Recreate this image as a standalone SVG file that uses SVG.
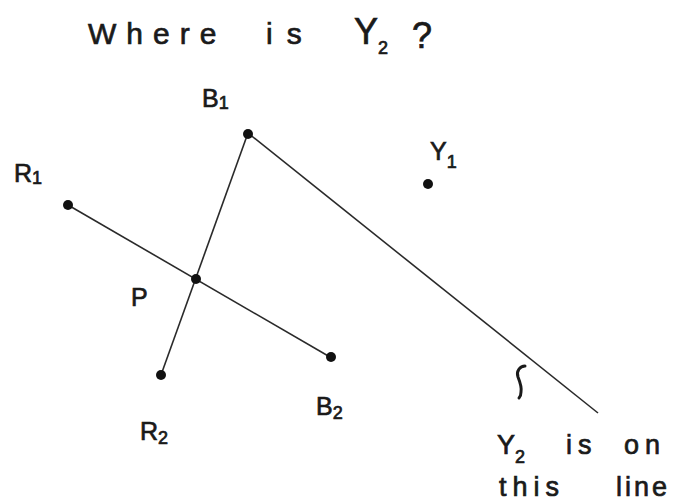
<svg xmlns="http://www.w3.org/2000/svg" width="691" height="504" viewBox="0 0 691 504">
<style>
text{font-family:"Liberation Sans","DejaVu Sans",sans-serif;fill:#1a1a1a;stroke:#1a1a1a;stroke-width:0.7}
.t{font-size:30px;letter-spacing:10px}
.ty{font-size:36px}
.l{font-size:25px}
.s{font-size:18px}
.n{font-size:27px;letter-spacing:6px}
.ln{stroke:#2a2a2a;stroke-width:1.6;fill:none}
.sq{stroke:#1a1a1a;stroke-width:3;fill:none;stroke-linecap:round}
.dot{fill:#111}
</style>
<rect width="691" height="504" fill="#fff"/>
<g id="title">
<text class="t" x="88" y="44">Where</text>
<text class="t" x="266" y="44" style="letter-spacing:14px">is</text>
<text class="ty" x="354" y="44">Y<tspan class="s" dy="10">2</tspan></text>
<text class="ty" x="412" y="48">?</text>
</g>
<g id="connectors">
<line class="ln" x1="68" y1="205" x2="330" y2="357"/>
<line class="ln" x1="248" y1="133" x2="161" y2="375"/>
<line class="ln" x1="248" y1="133" x2="598" y2="413"/>
<path class="sq" d="M525 366 C520 366 516 371 518 377 C520 382 522 387 521 392 C521 395 520 397 519 398"/>
</g>
<g id="B1"><circle class="dot" cx="248" cy="134" r="5"/><text class="l" x="202" y="107">B<tspan class="s" dy="2">1</tspan></text></g>
<g id="R1"><circle class="dot" cx="68" cy="205" r="5"/><text class="l" x="14" y="182">R<tspan class="s" dy="2">1</tspan></text></g>
<g id="Y1"><circle class="dot" cx="428" cy="184" r="5"/><text class="l" x="430" y="160">Y<tspan class="s" dy="8">1</tspan></text></g>
<g id="P"><circle class="dot" cx="196" cy="279" r="5"/><text class="l" x="131" y="306">P</text></g>
<g id="R2"><circle class="dot" cx="161" cy="375" r="5"/><text class="l" x="140" y="440">R<tspan class="s" dy="4">2</tspan></text></g>
<g id="B2"><circle class="dot" cx="331" cy="357" r="5"/><text class="l" x="316" y="415">B<tspan class="s" dy="4">2</tspan></text></g>
<g id="note">
<text class="n" x="497" y="454" style="letter-spacing:0">Y<tspan class="s" dy="9">2</tspan></text>
<text class="n" x="566" y="454">is</text>
<text class="n" x="624" y="454">on</text>
<text class="n" x="499" y="496">this</text>
<text class="n" x="616" y="496" style="letter-spacing:3px">line</text>
</g>
</svg>
